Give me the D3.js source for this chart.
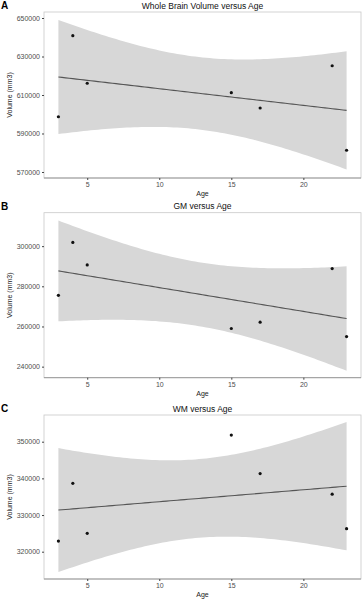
<!DOCTYPE html>
<html>
  <head>
    <meta charset="UTF-8" />
    <script src="https://cdn.jsdelivr.net/npm/d3@7"></script>
    <style>
      body { margin: 0; background: #fff; }
      text { font-family: "Liberation Sans", Arial, sans-serif; }
    </style>
  </head>
  <body>
    <svg></svg>
    <script>
      // data
      const ages = [3, 4, 5, 15, 17, 22, 23]
      const wholeBrain = [598700, 640800, 616100, 611200, 603250, 625200, 581300]
      const grayMatter = [275500, 301850, 290650, 259000, 262150, 288850, 255000]
      const whiteMatter = [322900, 338640, 325000, 351800, 341300, 335700, 326270]
      const xTicks = [5, 10, 15, 20]
      const ticksA = [570000, 590000, 610000, 630000, 650000]
      const ticksB = [240000, 260000, 280000, 300000]
      const ticksC = [320000, 330000, 340000, 350000]

      const width = 363
      const height = 600
      const left = 44
      const right = 361

      const svg = d3.select("svg").attr("width", width).attr("height", height)

      const panels = [
        { tag: "A", title: "Whole Brain Volume versus Age", ys: wholeBrain, ticks: ticksA,
          top: 12, bottom: 178, domain: [566883, 653117] },
        { tag: "B", title: "GM versus Age", ys: grayMatter, ticks: ticksB,
          top: 212.7, bottom: 377.7, domain: [234500, 316650] },
        { tag: "C", title: "WM versus Age", ys: whiteMatter, ticks: ticksC,
          top: 415, bottom: 579, domain: [312555, 357280] },
      ]

      // linear fit with 95% confidence band (like geom_smooth(method = "lm"))
      function fit(xs, ys) {
        const n = xs.length
        const mx = d3.mean(xs)
        const my = d3.mean(ys)
        const sxx = d3.sum(xs, (x) => (x - mx) ** 2)
        const sxy = d3.sum(xs, (x, i) => (x - mx) * (ys[i] - my))
        const b = sxy / sxx
        const a = my - b * mx
        const sse = d3.sum(xs, (x, i) => (ys[i] - (a + b * x)) ** 2)
        const s = Math.sqrt(sse / (n - 2))
        const t = 2.570582 // qt(0.975, 5)
        const lo = d3.min(xs)
        const hi = d3.max(xs)
        const grid = d3.range(0, 81).map((i) => lo + ((hi - lo) * i) / 80)
        return grid.map((x) => {
          const yhat = a + b * x
          const se = s * Math.sqrt(1 / n + (x - mx) ** 2 / sxx)
          return { x, y: yhat, lo: yhat - t * se, hi: yhat + t * se }
        })
      }

      const x = d3.scaleLinear().domain([2, 24]).range([left, right])

      panels.forEach((p) => {
        const y = d3.scaleLinear().domain(p.domain).range([p.bottom, p.top])
        const g = svg.append("g")
        const band = fit(ages, p.ys)

        // panel border
        g.append("rect")
          .attr("x", left)
          .attr("y", p.top)
          .attr("width", right - left)
          .attr("height", p.bottom - p.top)
          .attr("fill", "none")
          .attr("stroke", "#c8c8c8")
          .attr("stroke-width", 0.8)

        g.append("path")
          .datum(band)
          .attr("fill", "#d7d7d7")
          .attr("d", d3.area().x((d) => x(d.x)).y0((d) => y(d.lo)).y1((d) => y(d.hi)))

        g.append("path")
          .datum(band)
          .attr("fill", "none")
          .attr("stroke", "#555")
          .attr("stroke-width", 1.1)
          .attr("d", d3.line().x((d) => x(d.x)).y((d) => y(d.y)))

        g.append("g")
          .selectAll("circle")
          .data(ages)
          .join("circle")
          .attr("cx", (d) => x(d))
          .attr("cy", (d, i) => y(p.ys[i]))
          .attr("r", 1.6)
          .attr("fill", "#111")

        // axes
        g.append("g")
          .attr("transform", `translate(0,${p.bottom})`)
          .call(d3.axisBottom(x).tickValues(xTicks).tickSize(2).tickPadding(2))
          .call((a) => a.select(".domain").attr("stroke", "#999").attr("d", `M${left},0H${right}`))
          .call((a) => a.selectAll(".tick line").attr("stroke", "#444"))
          .call((a) => a.selectAll("text").attr("font-size", 7).attr("fill", "#4d4d4d").attr("font-family", null))

        g.append("g")
          .attr("transform", `translate(${left},0)`)
          .call(d3.axisLeft(y).tickValues(p.ticks).tickFormat(d3.format("d")).tickSize(2).tickPadding(2))
          .call((a) => a.select(".domain").remove())
          .call((a) => a.selectAll(".tick line").attr("stroke", "#444"))
          .call((a) => a.selectAll("text").attr("font-size", 7).attr("fill", "#4d4d4d").attr("font-family", null))

        g.append("text")
          .attr("x", (left + right) / 2)
          .attr("y", p.top - 3.5)
          .attr("text-anchor", "middle")
          .attr("font-size", 8.5)
          .attr("fill", "#111")
          .text(p.title)

        g.append("text")
          .attr("x", (left + right) / 2)
          .attr("y", p.bottom + 18)
          .attr("text-anchor", "middle")
          .attr("font-size", 7)
          .attr("fill", "#222")
          .text("Age")

        g.append("text")
          .attr("transform", `translate(12,${(p.top + p.bottom) / 2}) rotate(-90)`)
          .attr("text-anchor", "middle")
          .attr("font-size", 7)
          .attr("fill", "#222")
          .text("Volume (mm3)")

        g.append("text")
          .attr("x", 1)
          .attr("y", p.top - 3)
          .attr("font-size", 10)
          .attr("font-weight", "bold")
          .attr("fill", "#000")
          .text(p.tag)
      })
    </script>
  </body>
</html>
